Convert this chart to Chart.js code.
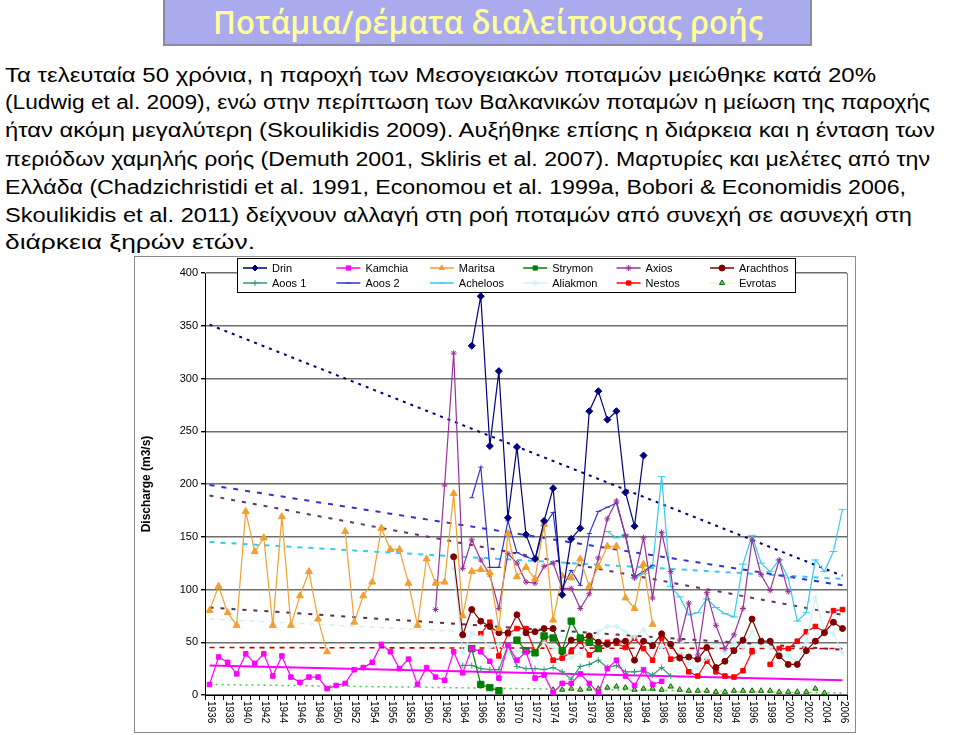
<!DOCTYPE html>
<html lang="el">
<head>
<meta charset="UTF-8">
<title>Ποτάμια/ρέματα διαλείπουσας ροής</title>
<script src="https://cdn.jsdelivr.net/npm/chart.js"></script>
<style>
  body { margin: 0; background: #fff; width: 960px; height: 735px; position: relative; overflow: hidden; font-family: "Liberation Sans", Arial, sans-serif; }
  .titulo { position: absolute; left: 163px; top: -2px; width: 645px; height: 44px; background: #aaaaee; border: 2px solid #8a8aa8; }
  .titulo span { position: absolute; left: 48px; top: 2px; font-family: "Open Sans", sans-serif; font-weight: 600; font-size: 33px; line-height: 40px; color: #ffff99; white-space: nowrap; transform-origin: left center; }
  .linha { position: absolute; left: 5px; font-size: 20px; line-height: 24px; white-space: nowrap; color: #000; transform-origin: left center; }
  .caixa { position: absolute; left: 134px; top: 256px; width: 720px; height: 475px; border: 1px solid #8c8c8c; }
</style>
</head>
<body>
  <div class="titulo"><span data-w="550">Ποτάμια/ρέματα διαλείπουσας ροής</span></div>

  <div class="linha" style="top:63px" data-w="871">Τα τελευταία 50 χρόνια, η παροχή των Μεσογειακών ποταμών μειώθηκε κατά 20%</div>
  <div class="linha" style="top:90px" data-w="925">(Ludwig et al. 2009), ενώ στην περίπτωση των Βαλκανικών ποταμών η μείωση της παροχής</div>
  <div class="linha" style="top:118px" data-w="930">ήταν ακόμη μεγαλύτερη (Skoulikidis 2009). Αυξήθηκε επίσης η διάρκεια και η ένταση των</div>
  <div class="linha" style="top:147px" data-w="925">περιόδων χαμηλής ροής (Demuth 2001, Skliris et al. 2007). Μαρτυρίες και μελέτες από την</div>
  <div class="linha" style="top:175px" data-w="901">Ελλάδα (Chadzichristidi et al. 1991, Economou et al. 1999a, Bobori &amp; Economidis 2006,</div>
  <div class="linha" style="top:203px" data-w="907">Skoulikidis et al. 2011) δείχνουν αλλαγή στη ροή ποταμών από συνεχή σε ασυνεχή στη</div>
  <div class="linha" style="top:230px" data-w="250">διάρκεια ξηρών ετών.</div>

  <div class="caixa"><canvas id="chart" width="720" height="475"></canvas></div>

<script>
// categorias (anos)
const years = ['1936','1937','1938','1939','1940','1941','1942','1943','1944','1945',
  '1946','1947','1948','1949','1950','1951','1952','1953','1954','1955',
  '1956','1957','1958','1959','1960','1961','1962','1963','1964','1965',
  '1966','1967','1968','1969','1970','1971','1972','1973','1974','1975',
  '1976','1977','1978','1979','1980','1981','1982','1983','1984','1985',
  '1986','1987','1988','1989','1990','1991','1992','1993','1994','1995',
  '1996','1997','1998','1999','2000','2001','2002','2003','2004','2005','2006'];
const yTicks = [0, 50, 100, 150, 200, 250, 300, 350, 400];

// séries: ano inicial + valores
const drinStart = 1965;
const drin = [331,378,236,307,168,235,152,129,165,196,95,148,158,269,288,261,269,192,160,227];
const kamchiaStart = 1936;
const kamchia = [10,36,31,20,39,30,39,18,37,17, 12,17,17,6,9,11,24,26,31,48,
  41,25,34,10,26,17,14,41,21,44, 41,32,16,47,33,41,16,19,2,11, 11,20,11,2,25,33,18,9,24,10, 13];
const maritsaStart = 1936;
const maritsa = [80,103,78,66,174,136,149,66,169,66, 94,117,72,41,null,155,69,94,107,158,
  138,138,106,66,129,106,107,191,75,117, 119,116,63,153,112,121,110,162,71,113,
  111,129,103,122,141,141,92,82,124,67];
const strymonStart = 1965;
const strymon = [44,10,7,4,null,52,42,40,56,54,42,70,54,50,44];
const axiosStart = 1961;
const axios = [81,199,324,120,147,128,114,82,134,125, 107,106,122,125,101,101,82,96,130,167,
  184,151,111,149,92,154,117,52,87,38, 97,66,44,57,82,147,114,99,128,98];
const arachthosStart = 1963;
const arachthos = [131,57,81,70,65,59,59,76,59,60, 63,63,41,52,53,56,50,48,51,51,
  33,51,47,58,48,35,36,34,45,26, 32,42,52,72,51,51,37,29,29,42, 51,59,69,63];
const aoos1Start = 1964;
const aoos1 = [28,28,25,24,24,47,27,25,25,24, 26,22,15,27,29,33,26,28,22,22, 23,19,26,18];
const aoos2Start = 1965;
const aoos2 = [187,216,121,121,165,135,131,128,160,173,101,118,104,153,174,178,182,151,112,117,123];
const achelooStart = 1980;
const acheloos = [155,149,152,111,115,122,207,103,93,76, 78,91,83,77,74,124,151,125,117,128,
  111,70,78,128,117,136,176];
const aliakmonStart = 1963;
const aliakmon = [120,40,58,55,45,48,40,42,40,38, 50,45,44,35,40,50,60,65,65,60,
  55,62,50,45,48,40,30,25,35,45, 40,50,45,60,48,45,40,38,32,50, 92,60,58,40];
const nestosStart = 1966;
const nestos = [58,69,37,58,63,63,41,51,33,35, 41,51,38,44,50,49,45,54,44,33,
  54,34,37,22,18,32,22,18,17,23, 41,null,29,44,44,51,60,65,60,80, 81];
const evrotasStart = 1974;
const evrotas = [5,5,6,5,6,6,7,8,7,5, 6,6,5,8,5,4,4,4,3,3, 4,4,4,4,4,3,3,3,3,6, 2];

// linhas de tendência: valor em 1936 e em 2006
const trendDrin = [351, 113];
const trendAoos2 = [199, 104];
const trendAxios = [189, 76];
const trendAcheloos = [145, 110];
const trendArachthos = [83, 43];
const trendNestos = [45, 44];
const trendKamchia = [28, 14];
const trendEvrotas = [10, 2];
const trendAliakmon = [72, 42];

function pad(start, vals) {
  const out = years.map(() => null);
  vals.forEach((v, i) => { out[start - 1936 + i] = v; });
  return out;
}
function ends(pair) {
  const out = years.map(() => null);
  out[0] = pair[0];
  out[years.length - 1] = pair[1];
  return out;
}

function serie(label, data, color, style, radius, extra) {
  return Object.assign({
    label: label, data: data, borderColor: color, backgroundColor: color,
    pointBackgroundColor: color, pointBorderColor: color,
    pointStyle: style, pointRadius: radius, pointBorderWidth: 1,
    borderWidth: 1.2, spanGaps: false, tension: 0
  }, extra || {});
}
function tendencia(pair, color, dash, width) {
  return {
    label: '', data: ends(pair), borderColor: color, borderDash: dash,
    borderWidth: width, pointRadius: 0, spanGaps: true, tension: 0
  };
}

const series = [
  serie('Drin', pad(drinStart, drin), '#000080', 'rectRot', 3.5),
  serie('Kamchia', pad(kamchiaStart, kamchia), '#ff00ff', 'rect', 3.2),
  serie('Maritsa', pad(maritsaStart, maritsa), '#f0a030', 'triangle', 4),
  serie('Strymon', pad(strymonStart, strymon), '#008000', 'rect', 4.5),
  serie('Axios', pad(axiosStart, axios), '#993399', 'star', 3),
  serie('Arachthos', pad(arachthosStart, arachthos), '#800000', 'circle', 3),
  serie('Aoos 1', pad(aoos1Start, aoos1), '#339977', 'cross', 3),
  serie('Aoos 2', pad(aoos2Start, aoos2), '#3333cc', 'line', 2.5),
  serie('Acheloos', pad(achelooStart, acheloos), '#33ccee', 'line', 4),
  serie('Aliakmon', pad(aliakmonStart, aliakmon), '#ccf2f4', 'star', 3),
  serie('Nestos', pad(nestosStart, nestos), '#ff0000', 'rect', 3.2),
  serie('Evrotas', pad(evrotasStart, evrotas), '#eef7c8', 'triangle', 3,
    { pointBackgroundColor: '#88cc66', pointBorderColor: '#006600' })
];

const trends = [
  tendencia(trendDrin, '#000080', [3, 5], 2),
  tendencia(trendAoos2, '#3333cc', [5, 7], 2),
  tendencia(trendAxios, '#663366', [4, 7], 2),
  tendencia(trendAcheloos, '#33ccee', [5, 6], 2),
  tendencia(trendArachthos, '#5a3050', [4, 7], 2),
  tendencia(trendNestos, '#cc0000', [5, 5], 1.6),
  tendencia(trendKamchia, '#ff00ff', [], 2),
  tendencia(trendEvrotas, '#44cc44', [2, 4], 1.5),
  tendencia(trendAliakmon, '#d4eef2', [5, 5], 1.5)
];

// legenda dentro da área do gráfico, borda direita e rótulos do eixo x
const legenda = {
  id: 'legenda',
  afterDraw(chart) {
    const ctx = chart.ctx;
    ctx.save();
    ctx.fillStyle = '#fff';
    ctx.fillRect(102, 1, 558, 34);
    ctx.strokeStyle = '#000';
    ctx.lineWidth = 1;
    ctx.strokeRect(102.5, 1.5, 558, 34);
    ctx.font = '11px "Liberation Sans", Arial, sans-serif';
    ctx.textBaseline = 'middle';
    ctx.textAlign = 'left';
    series.forEach((ds, i) => {
      const col = i % 6, row = Math.floor(i / 6);
      const x = 108 + col * 93.4, y = 11 + row * 15;
      ctx.strokeStyle = ds.borderColor;
      ctx.lineWidth = 1.5;
      ctx.setLineDash([]);
      ctx.beginPath(); ctx.moveTo(x, y); ctx.lineTo(x + 24, y); ctx.stroke();
      ctx.fillStyle = ds.pointBackgroundColor;
      ctx.strokeStyle = ds.pointBorderColor;
      ctx.lineWidth = 1;
      Chart.helpers.drawPoint(ctx, { pointStyle: ds.pointStyle, radius: Math.min(ds.pointRadius, 3), borderWidth: 1, rotation: 0 }, x + 12, y);
      ctx.fillStyle = '#000';
      ctx.fillText(ds.label, x + 29, y + 0.5);
    });
    const a = chart.chartArea;
    ctx.strokeStyle = '#808080';
    ctx.beginPath(); ctx.moveTo(a.right + 0.5, a.top); ctx.lineTo(a.right + 0.5, a.bottom); ctx.stroke();
    const xs = chart.scales.x;
    ctx.font = '10px "Liberation Sans", Arial, sans-serif';
    ctx.fillStyle = '#000';
    years.forEach((yr, i) => {
      if (i % 2) return;
      ctx.save();
      ctx.translate(xs.getPixelForValue(i) + 1, a.bottom + 6);
      ctx.rotate(Math.PI / 2);
      ctx.fillText(yr, 0, 0);
      ctx.restore();
    });
    ctx.restore();
  }
};

new Chart(document.getElementById('chart'), {
  type: 'line',
  data: { labels: years, datasets: series.concat(trends) },
  plugins: [legenda],
  options: {
    responsive: false,
    animation: false,
    layout: { padding: { left: 0, right: 8, top: 16, bottom: 0 } },
    plugins: { legend: { display: false }, tooltip: { enabled: false } },
    scales: {
      x: {
        offset: true,
        grid: { drawOnChartArea: false, offset: true, tickLength: 5, color: '#000' },
        border: { color: '#000' },
        ticks: { display: false },
        afterFit: s => { s.height = 37; }
      },
      y: {
        min: 0, max: 400,
        afterBuildTicks: s => { s.ticks = yTicks.map(v => ({ value: v })); },
        grid: { color: '#6e6e6e', lineWidth: 1.4, tickLength: 4, tickColor: '#000' },
        border: { color: '#000' },
        ticks: { color: '#000', padding: 3, font: { family: '"Liberation Sans", Arial', size: 11 } },
        title: { display: true, text: 'Discharge (m3/s)', color: '#000', padding: { top: 4, bottom: 0 },
          font: { family: '"Liberation Sans", Arial', size: 12, weight: 'bold' } },
        afterFit: s => { s.width = 70; }
      }
    }
  }
});

// ajusta a largura de cada linha de texto
document.querySelectorAll('[data-w]').forEach(el => {
  const w = el.getBoundingClientRect().width;
  el.style.transform = 'scaleX(' + (parseFloat(el.dataset.w) / w) + ')';
});
</script>
</body>
</html>
